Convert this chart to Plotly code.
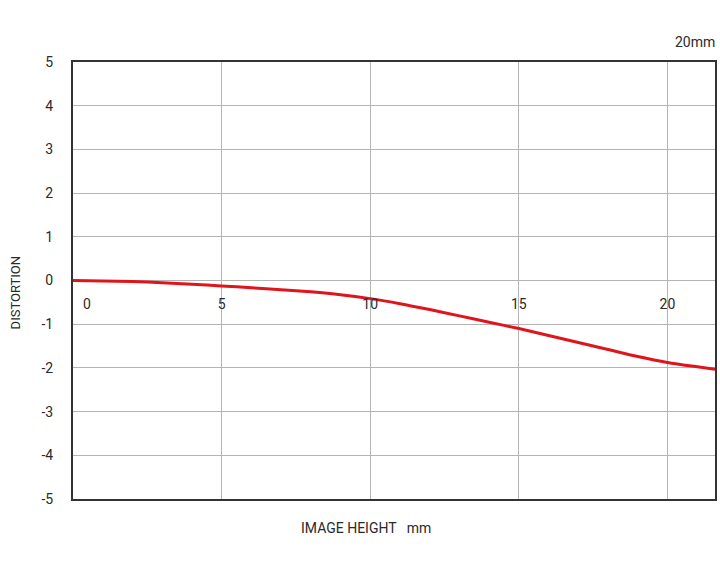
import plotly.graph_objects as go

# data
image_height = [0, 1, 2, 3, 4, 5, 6, 7, 8, 9, 10, 11, 12, 13, 14, 15, 16, 17, 18, 19, 20, 21, 21.6]
distortion = [0.0, -0.01, -0.025, -0.05, -0.085, -0.125, -0.165, -0.21, -0.26, -0.325, -0.415,
              -0.53, -0.665, -0.81, -0.955, -1.10, -1.26, -1.42, -1.58, -1.74, -1.875, -1.975, -2.03]
x_ticks = [0, 5, 10, 15, 20]
x_ticktext = ["\u00a0\u00a0\u00a0\u00a0\u00a0\u00a0\u00a0\u00a00", "5", "10", "15", "20"]
y_ticks = [-5, -4, -3, -2, -1, 0, 1, 2, 3, 4, 5]
y_ticktext = ["-5", "-4", "-3", "-2", "-1", "0", "1", "2", "3", "4", "5"]

font_family = "Roboto, Arial, sans-serif"
txt = "#2a2a2a"

fig = go.Figure()
fig.add_trace(go.Scatter(x=image_height, y=distortion, mode="lines",
                         line=dict(color="#e0141b", width=3, shape="spline", smoothing=0.8),
                         hoverinfo="skip", showlegend=False))
# invisible trace to activate second x axis for inner tick labels
fig.add_trace(go.Scatter(x=[image_height[0], image_height[-1]], y=[0, 0], xaxis="x2",
                         mode="lines", line=dict(width=0), opacity=0,
                         hoverinfo="skip", showlegend=False))

fig.update_layout(
    width=720, height=570,
    margin=dict(l=73, r=3, t=62, b=71),
    paper_bgcolor="white", plot_bgcolor="white",
    font=dict(family=font_family, size=13, color=txt),
    xaxis=dict(range=[0, 21.6], tickvals=x_ticks, showticklabels=False,
               showgrid=True, gridcolor="#b4b4b4", gridwidth=1,
               showline=True, linecolor="#333333", linewidth=2, mirror=True,
               zeroline=False, ticks=""),
    xaxis2=dict(range=[0, 21.6], overlaying="x", anchor="free", position=0.5,
                side="bottom", tickvals=x_ticks, ticktext=x_ticktext,
                showgrid=False, showline=False, zeroline=False, ticks="",
                ticklabelstandoff=13,
                tickfont=dict(family=font_family, size=14, color=txt)),
    yaxis=dict(range=[-5, 5], tickvals=y_ticks, ticktext=y_ticktext, showgrid=True,
               gridcolor="#b4b4b4", gridwidth=1,
               showline=True, linecolor="#333333", linewidth=2, mirror=True,
               zeroline=False, ticks="", ticklabelstandoff=15,
               tickfont=dict(family=font_family, size=14, color=txt)),
    annotations=[
        dict(text="DISTORTION", textangle=-90, xref="paper", yref="paper",
             x=-0.09, y=0.471, showarrow=False, xanchor="center", yanchor="middle",
             font=dict(family=font_family, size=13, color=txt)),
        dict(text="IMAGE HEIGHT \u00a0\u00a0mm", xref="paper", yref="paper",
             x=0.457, y=-0.066, showarrow=False, xanchor="center", yanchor="middle",
             font=dict(family=font_family, size=14, color=txt)),
        dict(text="20mm", xref="paper", yref="paper",
             x=1.003, y=1.046, showarrow=False, xanchor="right", yanchor="middle",
             font=dict(family=font_family, size=14, color=txt)),
    ],
)

fig.write_html("out.html", config={"displayModeBar": False},
               post_script="document.body.style.margin='0';document.body.style.overflow='hidden';")
